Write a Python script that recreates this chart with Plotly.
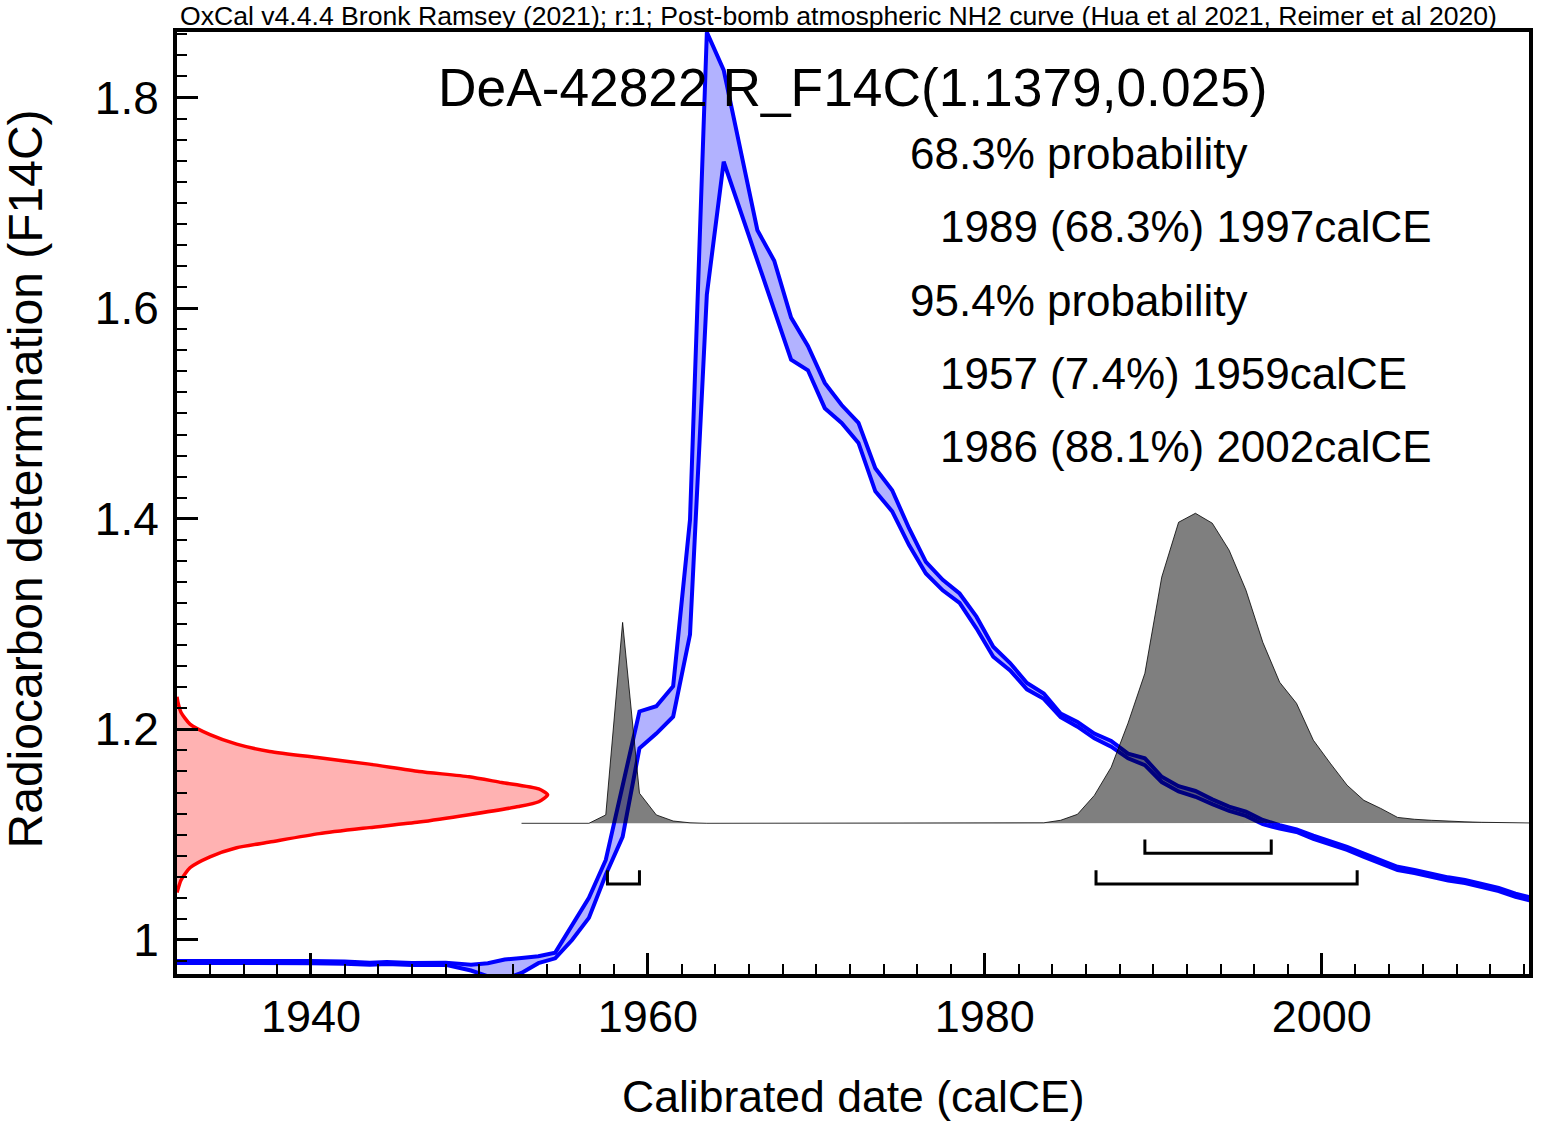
import plotly.graph_objects as go

# ---------------- data ----------------
# Calibration curve (upper / lower 1-sigma edges), F14C
curve_years = [1932.0, 1935.0, 1940.0, 1942.0, 1943.5, 1944.5, 1946.0, 1948.0, 1949.5,
               1950.5, 1951.5, 1952.5, 1953.5, 1954.5, 1955.5, 1956.5, 1957.5, 1958.5,
               1959.5, 1960.5, 1961.5, 1962.5, 1963.5, 1964.5, 1965.5, 1966.5, 1967.5,
               1968.5, 1969.5, 1970.5, 1971.5, 1972.5, 1973.5, 1974.5, 1975.5, 1976.5,
               1977.5, 1978.5, 1979.5, 1980.5, 1981.5, 1982.5, 1983.5, 1984.5, 1985.5,
               1986.5, 1987.5, 1988.5, 1989.5, 1990.5, 1991.5, 1992.5, 1993.5, 1994.5,
               1995.5, 1996.5, 1997.5, 1998.5, 1999.5, 2000.5, 2001.5, 2002.5, 2003.5,
               2004.5, 2005.5, 2006.5, 2007.5, 2008.5, 2009.5, 2010.5, 2011.5, 2012.5]
curve_upper = [0.9800, 0.9802, 0.9800, 0.9795, 0.9785, 0.9792, 0.9782, 0.9785, 0.9765,
               0.9780, 0.9815, 0.9830, 0.9845, 0.9880, 1.0140, 1.0400, 1.0760, 1.1460,
               1.2170, 1.2220, 1.2410, 1.3990, 1.8620, 1.8260, 1.7500, 1.6740, 1.6450,
               1.5910, 1.5640, 1.5290, 1.5080, 1.4910, 1.4480, 1.4270, 1.3910, 1.3590,
               1.3420, 1.3290, 1.3070, 1.2785, 1.2630, 1.2440, 1.2340, 1.2150, 1.2070,
               1.1960, 1.1890, 1.1770, 1.1725, 1.1550, 1.1460, 1.1415, 1.1335, 1.1266,
               1.1218, 1.1140, 1.1090, 1.1050, 1.0990, 1.0940, 1.0885, 1.0820, 1.0760,
               1.0695, 1.0665, 1.0630, 1.0595, 1.0570, 1.0530, 1.0495, 1.0440, 1.0400]
curve_lower = [0.9782, 0.9784, 0.9780, 0.9775, 0.9765, 0.9772, 0.9762, 0.9765, 0.9710,
               0.9655, 0.9630, 0.9687, 0.9780, 0.9826, 1.0000, 1.0210, 1.0620, 1.0980,
               1.1820, 1.1960, 1.2120, 1.2900, 1.6130, 1.7390, 1.6920, 1.6450, 1.5980,
               1.5510, 1.5410, 1.5050, 1.4910, 1.4720, 1.4260, 1.4070, 1.3750, 1.3480,
               1.3320, 1.3200, 1.2960, 1.2690, 1.2560, 1.2380, 1.2290, 1.2115, 1.2026,
               1.1915, 1.1836, 1.1725, 1.1660, 1.1500, 1.1410, 1.1360, 1.1290, 1.1225,
               1.1178, 1.1100, 1.1057, 1.1026, 1.0960, 1.0910, 1.0855, 1.0790, 1.0730,
               1.0665, 1.0635, 1.0600, 1.0565, 1.0540, 1.0500, 1.0465, 1.0410, 1.0370]

# Radiocarbon determination R_F14C(1.1379, 0.025): relative density vs F14C
rc_f14c = [1.231, 1.225, 1.216, 1.205, 1.195, 1.186, 1.179, 1.173, 1.167, 1.160, 1.155,
           1.1495, 1.1434, 1.1379, 1.1313, 1.1267, 1.119, 1.112, 1.1067, 1.101, 1.093,
           1.0876, 1.079, 1.0686, 1.057, 1.045]
rc_density = [0.0, 0.003, 0.011, 0.035, 0.089, 0.161, 0.25, 0.384, 0.519, 0.653, 0.788,
              0.876, 0.976, 1.0, 0.976, 0.922, 0.788, 0.653, 0.519, 0.384, 0.25,
              0.161, 0.089, 0.035, 0.011, 0.0]

# Calibrated date probability (relative)
cal_years = [1952.5, 1953.5, 1954.5, 1955.5, 1956.5, 1957.5, 1958.5, 1959.5, 1960.5,
             1961.5, 1962.5, 1963.5, 1982.5, 1983.5, 1984.5, 1985.5, 1986.5, 1987.5,
             1988.5, 1989.5, 1990.5, 1991.5, 1992.5, 1993.5, 1994.5, 1995.5, 1996.5,
             1997.5, 1998.5, 1999.5, 2000.5, 2001.5, 2002.5, 2003.5, 2004.5, 2005.5,
             2006.5, 2007.5, 2008.5, 2009.5, 2010.5, 2011.5, 2012.5]
cal_prob = [0.0, 0.0, 0.0, 0.0, 0.0, 0.027, 0.648, 0.097, 0.027,
            0.0074, 0.0016, 0.0, 0.0, 0.0016, 0.0097, 0.029, 0.090, 0.181,
            0.323, 0.484, 0.794, 0.971, 1.0, 0.968, 0.881, 0.752, 0.584,
            0.455, 0.387, 0.268, 0.194, 0.123, 0.074, 0.048, 0.019, 0.013,
            0.0097, 0.0065, 0.0048, 0.0032, 0.0023, 0.0016, 0.001]

# Highest posterior density ranges (calCE)
hpd68 = [(1989.5, 1997.0)]
hpd95 = [(1957.6, 1959.5), (1986.6, 2002.1)]

title_text = "DeA-42822 R_F14C(1.1379,0.025)"
header_text = ("OxCal v4.4.4 Bronk Ramsey (2021); r:1; Post-bomb atmospheric NH2 curve "
               "(Hua et al 2021, Reimer et al 2020)")
summary_lines = ["68.3% probability", "  1989 (68.3%) 1997calCE",
                 "95.4% probability", "  1957 (7.4%) 1959calCE",
                 "  1986 (88.1%) 2002calCE"]
x_ticks = [1940, 1960, 1980, 2000]
y_ticks = [1.0, 1.2, 1.4, 1.6, 1.8]
y_tick_labels = ["1", "1.2", "1.4", "1.6", "1.8"]

# ---------------- layout constants ----------------
X_RANGE = [1932.05, 2012.3]
Y_RANGE = [0.9677, 1.8622]
RC_SCALE = 22.0          # years spanned by the peak of the determination
CAL_BASE = 1.1108        # baseline of the calibrated distribution
CAL_SCALE = 0.2944       # height of its peak (F14C units)
BR68_Y, BR95_Y, BR_H = 1.0823, 1.0532, 0.0130
FONT = "Liberation Sans, Arial, sans-serif"

fig = go.Figure()

# determination (red) on the y axis
rc_x = [X_RANGE[0] + d * RC_SCALE for d in rc_density]
fig.add_trace(go.Scatter(x=rc_x, y=rc_f14c, mode="lines", fill="toself",
                         fillcolor="rgba(255,0,0,0.3)",
                         line=dict(color="#ff0000", width=3.5, shape="spline",
                                   smoothing=0.6),
                         hoverinfo="skip"))

# calibration curve band
fig.add_trace(go.Scatter(x=curve_years + curve_years[::-1],
                         y=curve_upper + curve_lower[::-1],
                         mode="lines", fill="toself", fillcolor="rgba(0,0,255,0.3)",
                         line=dict(width=0), hoverinfo="skip"))
for edge in (curve_upper, curve_lower):
    fig.add_trace(go.Scatter(x=curve_years, y=edge, mode="lines",
                             line=dict(color="#0000ff", width=4), hoverinfo="skip"))

# calibrated distribution (grey, semi-transparent)
fig.add_trace(go.Scatter(x=cal_years, y=[CAL_BASE + p * CAL_SCALE for p in cal_prob],
                         mode="lines", fill="toself", fillcolor="rgba(0,0,0,0.5)",
                         line=dict(color="#000000", width=0.8), hoverinfo="skip"))

# HPD brackets
def bracket_path(ranges, level):
    xs, ys = [], []
    for a, b in ranges:
        xs += [a, a, b, b, None]
        ys += [level + BR_H, level, level, level + BR_H, None]
    return xs, ys

for rng, lvl in ((hpd68, BR68_Y), (hpd95, BR95_Y)):
    bx, by = bracket_path(rng, lvl)
    fig.add_trace(go.Scatter(x=bx, y=by, mode="lines",
                             line=dict(color="#000000", width=3), hoverinfo="skip"))

# ---------------- annotations ----------------
ann = []
ann.append(dict(text=header_text, x=0.0007, y=1.017, xref="paper", yref="paper",
                xanchor="left", yanchor="middle", showarrow=False,
                font=dict(family="Liberation Sans Narrow, Arial Narrow, Liberation Sans",
                          size=26.6, color="black")))
ann.append(dict(text=title_text, x=0.5, y=0.9406, xref="paper", yref="paper",
                xanchor="center", yanchor="middle", showarrow=False,
                font=dict(family=FONT, size=53.3, color="black")))
line_px = [154, 227, 300, 373, 446]
for txt, py in zip(summary_lines, line_px):
    indent = txt.startswith("  ")
    ann.append(dict(text=txt.strip(), x=((940 if indent else 910) - 177) / 1356,
                    y=(974 - py) / 942, xref="paper", yref="paper",
                    xanchor="left", yanchor="middle", showarrow=False,
                    font=dict(family=FONT, size=44, color="black")))
ann.append(dict(text="Calibrated date (calCE)", x=0.5, y=(974 - 1096) / 942,
                xref="paper", yref="paper", xanchor="center", yanchor="middle",
                showarrow=False, font=dict(family=FONT, size=44.5, color="black")))
ann.append(dict(text="Radiocarbon determination (F14C)", x=(25 - 177) / 1356,
                y=(974 - 479) / 942, xref="paper", yref="paper", textangle=-90,
                xanchor="center", yanchor="middle", showarrow=False,
                font=dict(family=FONT, size=48, color="black")))

fig.update_layout(
    width=1543, height=1127,
    margin=dict(l=177, r=10, t=32, b=153),
    paper_bgcolor="white", plot_bgcolor="white",
    showlegend=False, annotations=ann,
    xaxis=dict(range=X_RANGE, showgrid=False, zeroline=False,
               showline=True, linecolor="black", linewidth=4, mirror=True,
               tickmode="array", tickvals=x_ticks, ticks="inside", ticklen=21,
               tickwidth=3, tickcolor="black",
               tickfont=dict(family=FONT, size=45, color="black"),
               minor=dict(dtick=2, tick0=0, ticks="inside", ticklen=10,
                          tickwidth=2, tickcolor="black", showgrid=False),
               ticklabelstandoff=0),
    yaxis=dict(range=Y_RANGE, showgrid=False, zeroline=False,
               showline=True, linecolor="black", linewidth=4, mirror=True,
               tickmode="array", tickvals=y_ticks, ticktext=y_tick_labels,
               ticks="inside", ticklen=21, tickwidth=3, tickcolor="black",
               tickfont=dict(family=FONT, size=46, color="black"),
               minor=dict(dtick=0.02, tick0=0, ticks="inside", ticklen=10,
                          tickwidth=2, tickcolor="black", showgrid=False),
               ticklabelstandoff=5),
)

fig.write_html("out.html")
